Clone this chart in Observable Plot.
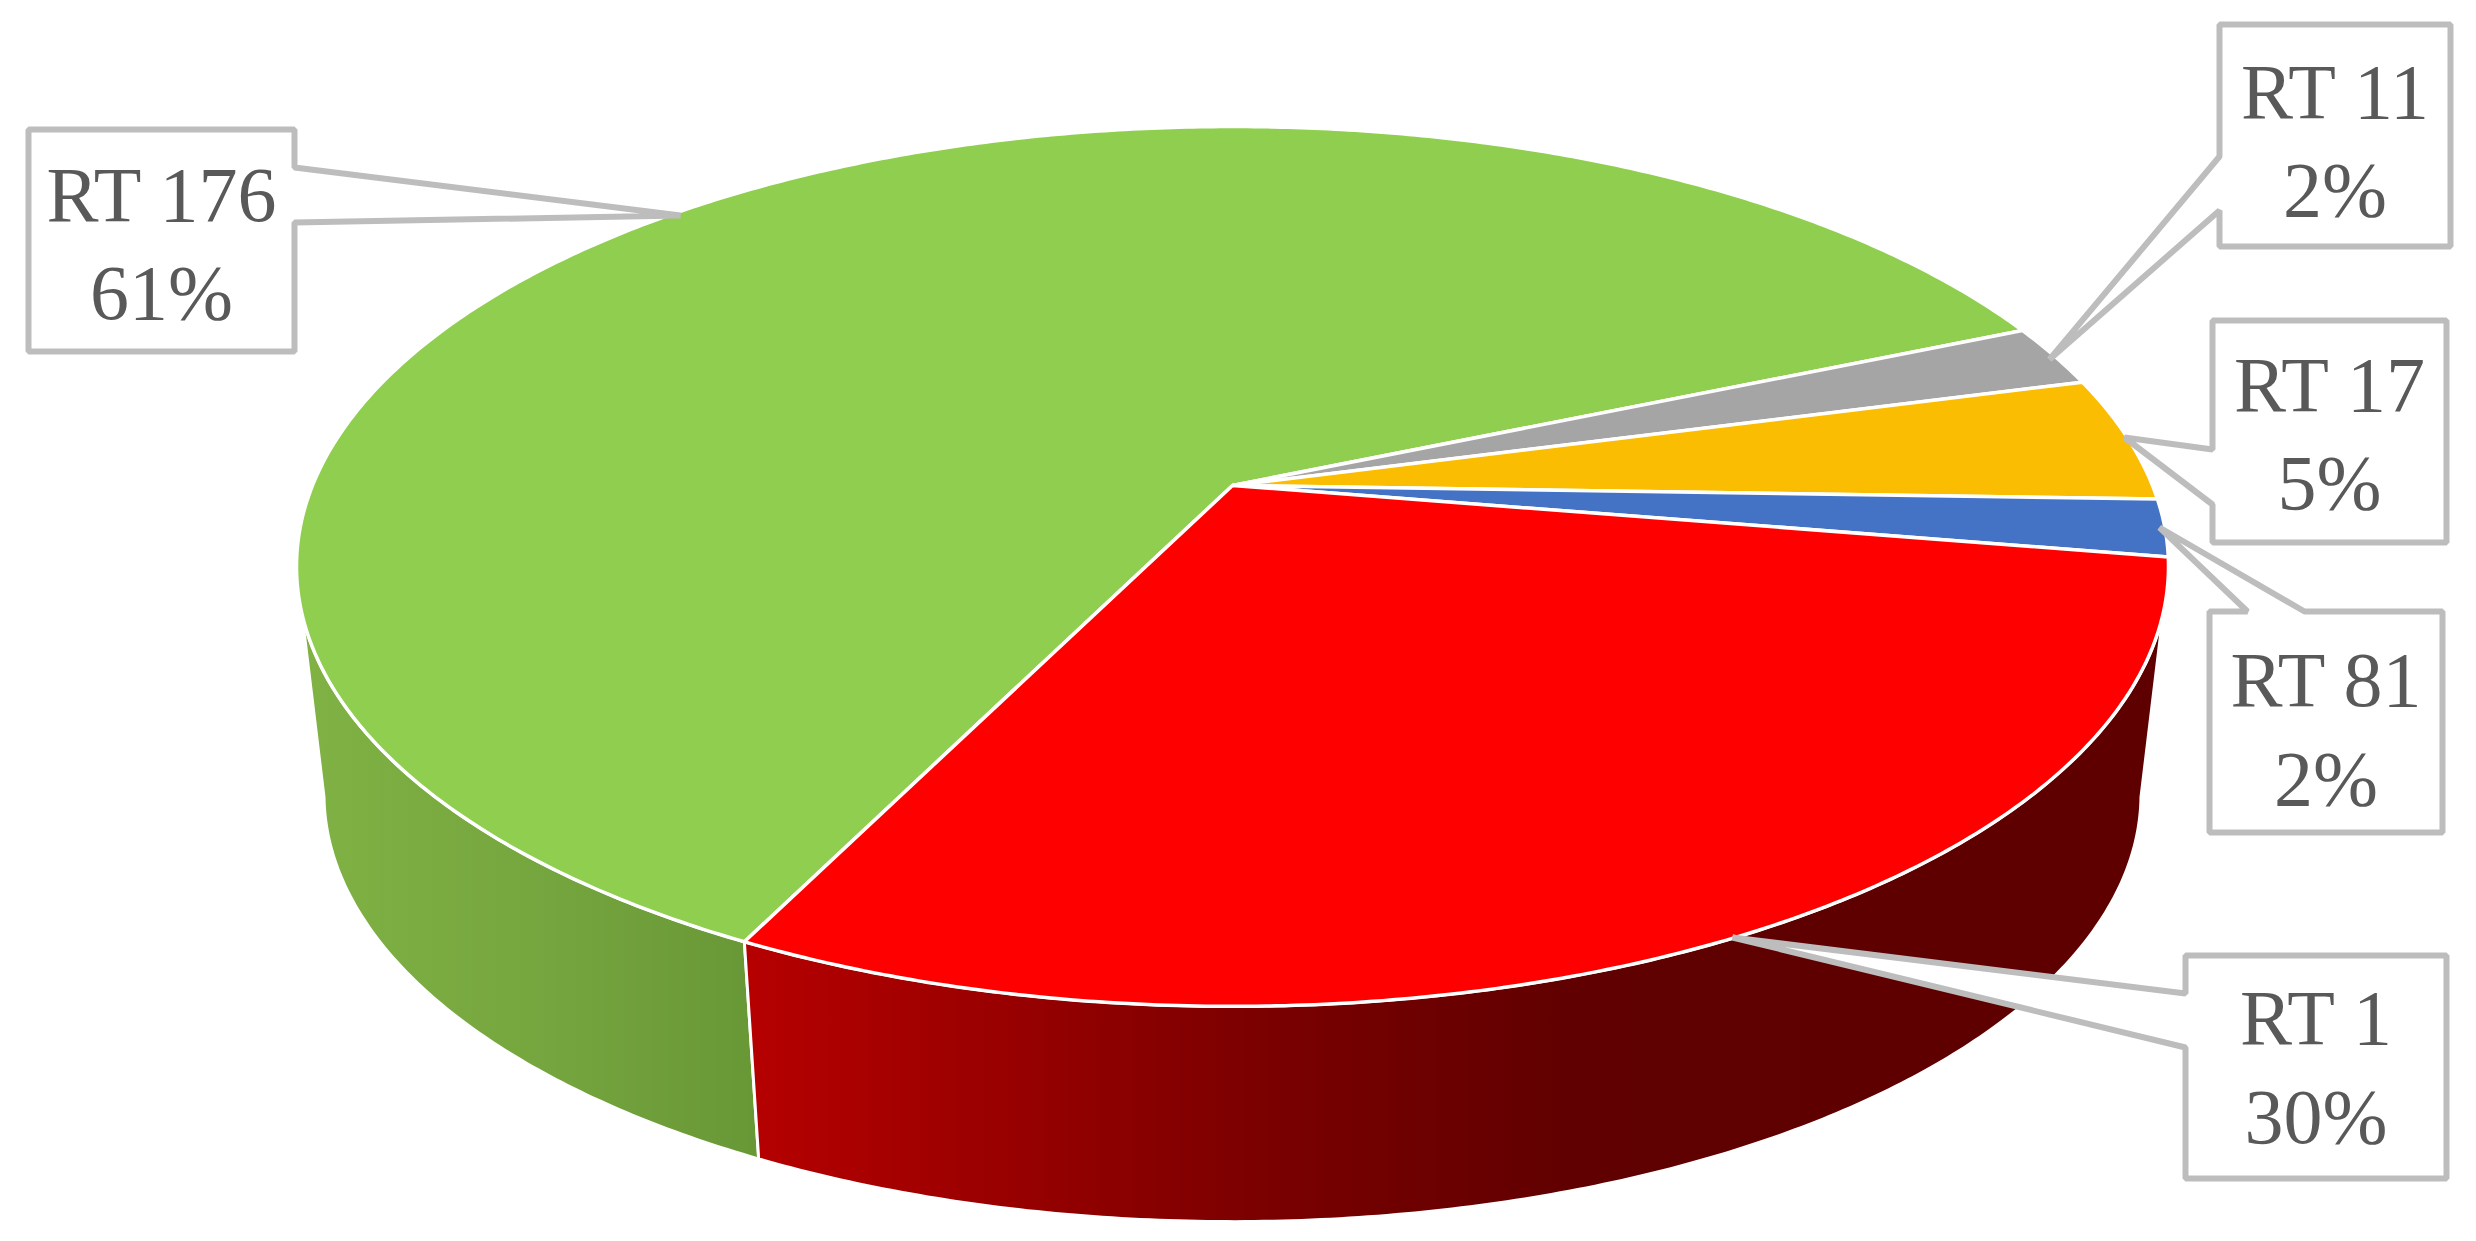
<!DOCTYPE html>
<html>
<head>
<meta charset="utf-8">
<script src="https://cdn.jsdelivr.net/npm/d3@7"></script>
<script src="https://cdn.jsdelivr.net/npm/@observablehq/plot@0.6"></script>
<style>
html,body{margin:0;padding:0;background:#fff;overflow:hidden}
svg{display:block;max-width:none}
</style>
</head>
<body>
<div id="chart"></div>
<script>
// Data, clockwise from the red/green boundary (percent shares)
const names  = ["RT 176", "RT 11", "RT 17", "RT 81", "RT 1"];
const shares = [61.3, 2.3, 4.6, 2.1, 29.7];
const colors = ["#8fce4e", "#a5a5a5", "#fbbd02", "#4472c4", "#ff0000"];

// Layout of the callouts (pointer tip + box), in the chart's pixel frame
const calloutBoxes = [
  {name:"RT 176", x0:28,   x1:294,  y0:129, y1:351,  dy:-2, path:[[294,222],[680,215],[294,167]], side:"right"},
  {name:"RT 11",  x0:2219, x1:2450, y0:24,  y1:246,  dy:0,  path:[[2219,210],[2049,359],[2219,156]], side:"left"},
  {name:"RT 17",  x0:2212, x1:2446, y0:320, y1:542,  dy:-3, path:[[2212,504],[2124,437],[2212,449]], side:"left"},
  {name:"RT 81",  x0:2209, x1:2442, y0:611, y1:832,  dy:2,  path:[[2247,611],[2159,527],[2304,611]], side:"top"},
  {name:"RT 1",   x0:2185, x1:2446, y0:955, y1:1178, dy:-5, path:[[2185,1047],[1732,937],[2185,993]], side:"left"}
];

// Perspective view of the disc
const W = 2476, H = 1241;
const startAngle = 206.3;      // degrees clockwise from 12 o'clock
const k = 0.184;
const levels = [
  {cx:1232, cy:485, A:920, B:425},   // top face
  {cx:1232, cy:715, A:893, B:413}    // bottom face
];
function proj(deg, lev) {
  const t = deg * Math.PI / 180, u = Math.sin(t), v = -Math.cos(t);
  const L = levels[lev], w = 1 - k * v;
  return {x: L.cx + L.A * u / w, y: L.cy + L.B * v / w};
}
const arcPts = (a0, a1, lev) => {
  const n = Math.max(2, Math.ceil(Math.abs(a1 - a0) / 0.5));
  return d3.range(n + 1).map(i => proj(a0 + (a1 - a0) * i / n, lev));
};

// Slice angle ranges from the shares
const total = d3.sum(shares);
let cum = startAngle;
const slices = names.map((name, i) => {
  const a0 = cum, a1 = cum + shares[i] / total * 360;
  cum = a1;
  return {name, a0, a1, share: shares[i]};
});

const topRows = slices.flatMap(s =>
  [{x: levels[0].cx, y: levels[0].cy}, ...arcPts(s.a0, s.a1, 0)].map(p => ({...p, name: s.name}))
);

// Visible walls: the green one up to the left silhouette, the red one from the right silhouette
const wall = (a0, a1) => [...arcPts(a0, a1, 0), ...arcPts(a1, a0, 1)];
const green = slices[0], red = slices[4];
const greenWall = wall(green.a0, 259);
const redWall = wall(360 + 101, red.a1);

// Callouts as closed outlines
const calloutRows = calloutBoxes.flatMap(b => {
  const {x0, x1, y0, y1, path, side} = b;
  let pts;
  if (side === "left") pts = [[x0,y0],[x1,y0],[x1,y1],[x0,y1],...path];
  else if (side === "right") pts = [[x0,y0],[x1,y0],...path.slice().reverse(),[x1,y1],[x0,y1]];
  else pts = [[x0,y0],...path,[x1,y0],[x1,y1],[x0,y1]];
  return pts.map(([x,y]) => ({x, y, name: b.name}));
});
const calloutLabels = calloutBoxes.map(b => ({
  x: (b.x0 + b.x1) / 2,
  y: (b.y0 + b.y1) / 2 + b.dy,
  text: `${b.name}\n${Math.round(slices.find(s => s.name === b.name).share)}%`
}));

const gradient = (id, stops) => () => {
  const g = d3.create("svg:linearGradient").attr("id", id).attr("x1", 0).attr("x2", 1).attr("y1", 0).attr("y2", 0);
  stops.forEach(([o, c]) => g.append("stop").attr("offset", o).attr("stop-color", c));
  const defs = d3.create("svg:defs");
  defs.node().appendChild(g.node());
  return defs.node();
};

const chart = Plot.plot({
  width: W, height: H,
  margin: 0,
  style: {background: "#fff"},
  x: {domain: [0, W], range: [0, W], axis: null},
  y: {domain: [0, H], range: [0, H], axis: null},
  color: {domain: names, range: colors},
  marks: [
    gradient("greenSide", [[0, "#80b244"], [0.55, "#75a53e"], [1, "#689736"]]),
    gradient("redSide", [[0, "#b60000"], [0.14, "#a00000"], [0.365, "#7b0000"], [0.587, "#600000"], [1, "#5e0000"]]),
    Plot.line(greenWall, {x: "x", y: "y", curve: "linear-closed", fill: "url(#greenSide)", stroke: "#fff", strokeWidth: 3}),
    Plot.line(redWall, {x: "x", y: "y", curve: "linear-closed", fill: "url(#redSide)", stroke: "#fff", strokeWidth: 3}),
    Plot.line(topRows, {x: "x", y: "y", z: "name", fill: "name", stroke: "#fff", strokeWidth: 3.5, strokeLinejoin: "round", curve: "linear-closed"}),
    Plot.line(calloutRows, {x: "x", y: "y", z: "name", fill: "#fff", stroke: "#bdbdbd", strokeWidth: 6, strokeLinejoin: "miter", curve: "linear-closed"}),
    Plot.text(calloutLabels, {x: "x", y: "y", text: "text", fontFamily: "Liberation Serif", fontSize: 78, lineHeight: 1.26, fill: "#595959", textAnchor: "middle", lineAnchor: "middle"})
  ]
});
document.getElementById("chart").appendChild(chart);
</script>
</body>
</html>
